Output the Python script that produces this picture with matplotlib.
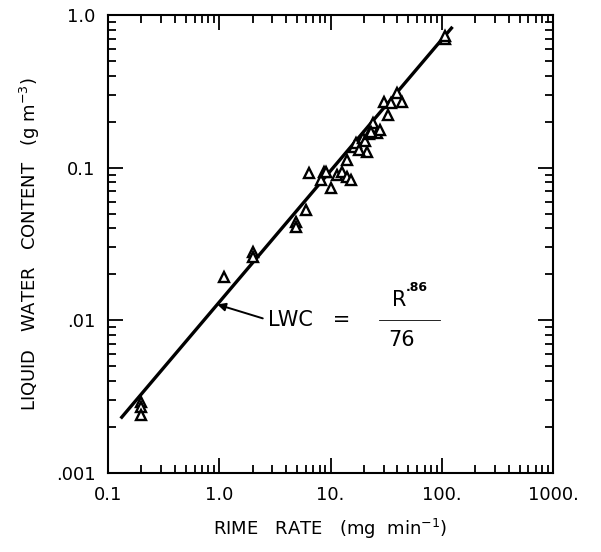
import numpy as np
import matplotlib
matplotlib.use("Agg")
import matplotlib.pyplot as plt
from matplotlib.ticker import FixedLocator, NullFormatter, LogLocator

# rime rate (mg/min) and liquid water content (g/m^3)
rime_rate = [0.2, 0.2, 0.2, 1.1, 2.0, 2.0, 4.9, 4.9, 6.0, 6.4,
             8.2, 8.7, 9.2, 10.1, 11.4, 12.7, 14.1, 15.3, 14.1, 16.3,
             17.0, 19.7, 21.5, 24.3, 26.0, 27.8, 18.0, 20.5, 22.0, 23.0,
             32.8, 30.0, 35.0, 40.0, 44.0, 106.0, 108.0]
lwc = [0.0029, 0.0027, 0.0024, 0.0192, 0.028, 0.026, 0.044, 0.041, 0.053, 0.092,
       0.083, 0.093, 0.094, 0.074, 0.090, 0.094, 0.087, 0.083, 0.112, 0.137,
       0.145, 0.156, 0.127, 0.196, 0.169, 0.177, 0.13, 0.15, 0.165, 0.17,
       0.221, 0.270, 0.265, 0.308, 0.27, 0.70, 0.73]

fit_exponent = 0.86
fit_divisor = 76.0
fit_range = [0.13, 125.0]

x_ticks = [0.1, 1.0, 10.0, 100.0, 1000.0]
x_ticklabels = ["0.1", "1.0", "10.", "100.", "1000."]
y_ticks = [0.001, 0.01, 0.1, 1.0]
y_ticklabels = [".001", ".01", "0.1", "1.0"]

fig = plt.figure(figsize=(6.01, 5.52), dpi=100)
ax = fig.add_axes([108 / 601, 1 - 473 / 552, 445 / 601, 458 / 552])

r_fit = np.logspace(np.log10(fit_range[0]), np.log10(fit_range[1]), 50)
ax.plot(r_fit, r_fit ** fit_exponent / fit_divisor, color="black", lw=2.4,
        solid_capstyle="butt", zorder=2)

ax.plot(rime_rate, lwc, linestyle="none", marker="^", markersize=7.5,
        markerfacecolor="white", markeredgecolor="black", markeredgewidth=1.7,
        zorder=3)

ax.set_xscale("log")
ax.set_yscale("log")
ax.set_xlim(0.1, 1000)
ax.set_ylim(0.001, 1.0)

ax.xaxis.set_major_locator(FixedLocator(x_ticks))
ax.set_xticklabels(x_ticklabels)
ax.yaxis.set_major_locator(FixedLocator(y_ticks))
ax.set_yticklabels(y_ticklabels)
ax.xaxis.set_minor_locator(LogLocator(base=10, subs=np.arange(2, 10)))
ax.yaxis.set_minor_locator(LogLocator(base=10, subs=np.arange(2, 10)))
ax.xaxis.set_minor_formatter(NullFormatter())
ax.yaxis.set_minor_formatter(NullFormatter())

ax.tick_params(which="both", direction="in", top=True, right=True,
               width=1.3, labelsize=13, colors="black")
ax.tick_params(which="major", length=11, pad=9)
ax.tick_params(which="minor", length=6)
for s in ax.spines.values():
    s.set_linewidth(1.5)

ax.set_xlabel("RIME   RATE   (mg  min$^{-1}$)", fontsize=13, labelpad=10)
ax.set_ylabel("LIQUID   WATER   CONTENT   (g m$^{-3}$)", fontsize=13, labelpad=10)

# fitted equation label with arrow to the line
ax.annotate("LWC   =", xy=(0.96, 0.96 ** fit_exponent / fit_divisor),
            xytext=(0.36, 0.334), textcoords="axes fraction",
            fontsize=15, ha="left", va="center",
            arrowprops=dict(arrowstyle="-|>", color="black", lw=1.4,
                            mutation_scale=12, relpos=(0, 0.5),
                            shrinkA=2, shrinkB=0))
ax.text(0.655, 0.378, "R", transform=ax.transAxes, fontsize=15,
        ha="center", va="center")
ax.text(0.694, 0.404, ".86", transform=ax.transAxes, fontsize=9,
        ha="center", va="center", fontweight="bold")
ax.plot([0.61, 0.745], [0.334, 0.334], transform=ax.transAxes,
        color="black", lw=0.6)
ax.text(0.66, 0.29, "76", transform=ax.transAxes, fontsize=15,
        ha="center", va="center")

fig.savefig("out.png", dpi=100)
